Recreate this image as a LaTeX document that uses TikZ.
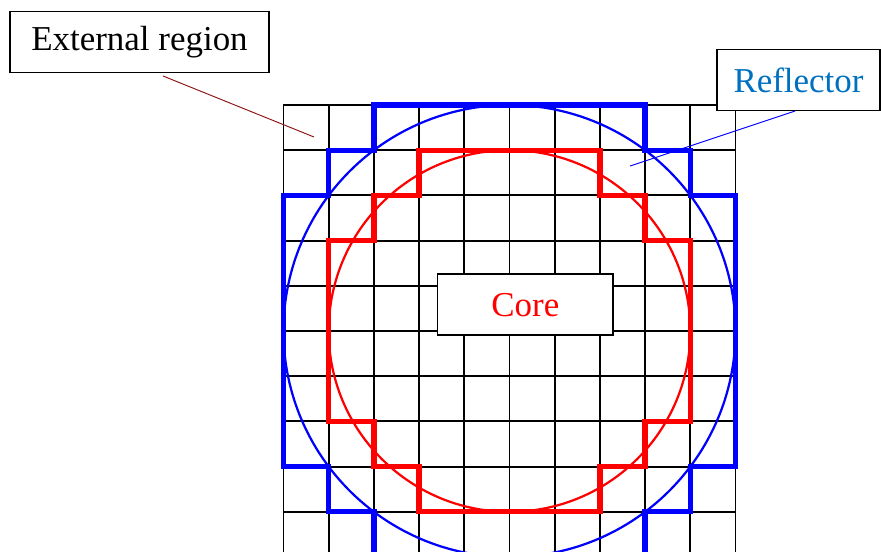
\documentclass[tikz,border=0pt]{standalone}
\usepackage{fontspec}
\setmainfont{Liberation Serif}
\definecolor{reflblue}{RGB}{0,112,192}
\definecolor{extred}{RGB}{140,20,20}
\begin{document}
\begin{tikzpicture}[
  gridline/.style={line width=1.2pt, black},
  stair/.style={line width=3.3pt, line join=miter, line cap=rect},
  circ/.style={line width=1.4pt},
  label/.style={draw=black, line width=1.1pt, fill=white, font=\fontsize{22}{26}\selectfont, inner sep=0pt, minimum height=1.35cm},
  lead/.style={line width=0.6pt}
]
\useasboundingbox (-11.272,-4.889) rectangle (8.219,7.323);
\clip (-11.272,-4.889) rectangle (8.219,7.323);
% grid
\draw[gridline] (-5,-5) grid (5,5);
% circles
\draw[circ, red] (0,0) circle (4);
\draw[circ, blue] (0,0) circle (5);
% red staircase
\draw[stair, red] (-2,4) -- (2,4) -- (2,3) -- (3,3) -- (3,2) -- (4,2) -- (4,-2) -- (3,-2) -- (3,-3) -- (2,-3) -- (2,-4) -- (-2,-4) -- (-2,-3) -- (-3,-3) -- (-3,-2) -- (-4,-2) -- (-4,2) -- (-3,2) -- (-3,3) -- (-2,3) -- cycle;
% blue staircase
\draw[stair, blue] (-3,5) -- (3,5) -- (3,4) -- (4,4) -- (4,3) -- (5,3) -- (5,-3) -- (4,-3) -- (4,-4) -- (3,-4) -- (3,-5) -- (-3,-5) -- (-3,-4) -- (-4,-4) -- (-4,-3) -- (-5,-3) -- (-5,3) -- (-4,3) -- (-4,4) -- (-3,4) -- cycle;
% labels
\node[label, minimum width=3.89cm, text=red] (core) at (0.350,0.582) {Core};
\node[label, minimum width=5.73cm] (ext) at (-8.186,6.394) {External region};
\node[label, minimum width=3.606cm, text=reflblue] (refl) at (6.394,5.553) {Reflector};
% leader lines
\coordinate (exta) at (-7.666,5.642);
\coordinate (extb) at (-4.325,4.292);
\coordinate (refla) at (6.316,4.867);
\coordinate (reflb) at (2.666,3.650);
\draw[lead, extred] (exta) -- (extb);
\draw[lead, blue] (refla) -- (reflb);
\end{tikzpicture}
\end{document}
